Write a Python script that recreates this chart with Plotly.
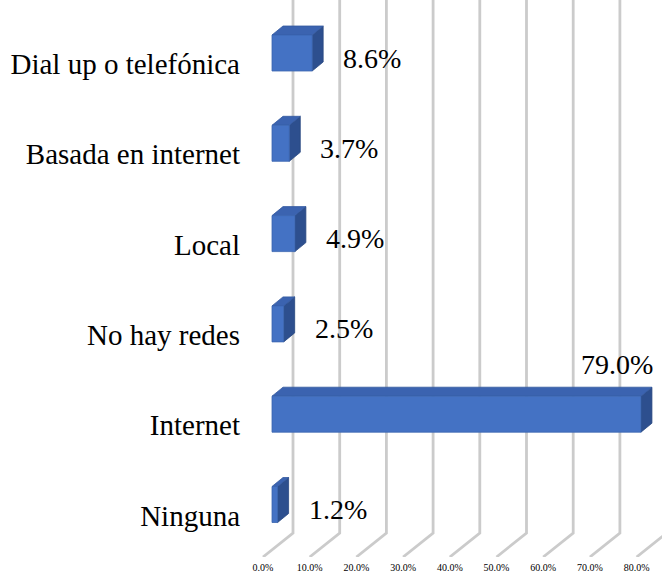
import plotly.graph_objects as go

# Data
categories = ["Dial up o telefónica", "Basada en internet", "Local",
              "No hay redes", "Internet", "Ninguna"]
values = [8.6, 3.7, 4.9, 2.5, 79.0, 1.2]
tick_values = [0, 10, 20, 30, 40, 50, 60, 70, 80]
tick_labels = [f"{t:.1f}%" for t in tick_values]

# Layout geometry (pixels)
W, H = 662, 578
ML, MB = 250, 21
PX_PER_PCT = 4.67          # horizontal scale
PX_PER_CAT = 90.3          # vertical spacing between categories
FLOOR_X0 = 263             # pixel x of 0 % on the front floor
FIRST_CAT_Y = 64           # pixel y of first category label

plot_h = H - MB
x_lo = (ML - FLOOR_X0) / PX_PER_PCT
x_hi = (W - FLOOR_X0) / PX_PER_PCT
y_top = -FIRST_CAT_Y / PX_PER_CAT
y_bot = (plot_h - FIRST_CAT_Y) / PX_PER_CAT


def dx(px):
    return px / PX_PER_PCT


def dy(px):
    # y axis is reversed: positive pixels go down
    return px / PX_PER_CAT


# 3D-look offsets (pixels)
WALL_DX, WALL_DY = 30, -24       # front floor -> back wall
BAR_DX, BAR_DY = 9, -11          # category plane -> bar front face
DEPTH_DX, DEPTH_DY = 11, -9      # bar depth
BAR_H = 36

serif = "Liberation Serif"

fig = go.Figure()

# Back wall gridlines with their floor diagonals
gx, gy = [], []
for t in tick_values:
    gx += [t, t + dx(WALL_DX), t + dx(WALL_DX), None]
    gy += [y_bot, y_bot + dy(WALL_DY), y_top, None]
fig.add_trace(go.Scatter(x=gx, y=gy, mode="lines",
                         line=dict(color="#cbcbcb", width=2.8),
                         hoverinfo="skip", showlegend=False))

# Bars built from front, top and side faces
front_x, front_y, top_x, top_y, side_x, side_y = [], [], [], [], [], []
for i, v in enumerate(values):
    x0 = dx(BAR_DX)
    x1 = x0 + v
    yc = i + dy(BAR_DY)
    yt = yc - dy(BAR_H / 2)
    yb = yc + dy(BAR_H / 2)
    ddx, ddy = dx(DEPTH_DX), dy(DEPTH_DY)
    front_x += [x0, x1, x1, x0, x0, None]
    front_y += [yt, yt, yb, yb, yt, None]
    top_x += [x0, x1, x1 + ddx, x0 + ddx, x0, None]
    top_y += [yt, yt, yt + ddy, yt + ddy, yt, None]
    side_x += [x1, x1 + ddx, x1 + ddx, x1, x1, None]
    side_y += [yt, yt + ddy, yb + ddy, yb, yt, None]

for xs, ys, col, edge in [(side_x, side_y, "#2d4f8e", "#284880"),
                          (top_x, top_y, "#3b63b0", "#34599f"),
                          (front_x, front_y, "#4472c4", "#3a64b0")]:
    fig.add_trace(go.Scatter(x=xs, y=ys, mode="lines", fill="toself",
                             fillcolor=col, line=dict(color=edge, width=0.8),
                             hoverinfo="skip", showlegend=False))

# Value labels
for i, v in enumerate(values):
    bar_end = dx(BAR_DX) + v
    if v > 70:
        ax_, ay_ = bar_end - dx(24), i + dy(BAR_DY - BAR_H / 2 - 32)
    else:
        ax_, ay_ = bar_end + dx(60), i + dy(BAR_DY + 5)
    fig.add_annotation(x=ax_, y=ay_, text=f"{v:.1f}%", showarrow=False,
                       xanchor="center", yanchor="middle",
                       font=dict(family=serif, size=28, color="black"))

fig.update_layout(
    width=W, height=H,
    margin=dict(l=ML, r=0, t=0, b=MB, pad=0),
    paper_bgcolor="white", plot_bgcolor="white",
    showlegend=False,
    xaxis=dict(range=[x_lo, x_hi], tickvals=tick_values, ticktext=tick_labels,
               showgrid=False, zeroline=False, showline=False,
               ticks="", automargin=False, ticklabelstandoff=3,
               tickfont=dict(family=serif, size=10, color="black")),
    yaxis=dict(range=[y_bot, y_top], tickvals=list(range(len(categories))),
               ticktext=categories, showgrid=False, zeroline=False,
               showline=False, ticks="", automargin=False,
               ticklabelstandoff=9,
               tickfont=dict(family=serif, size=29, color="black")),
)

fig.write_html("out.html")
